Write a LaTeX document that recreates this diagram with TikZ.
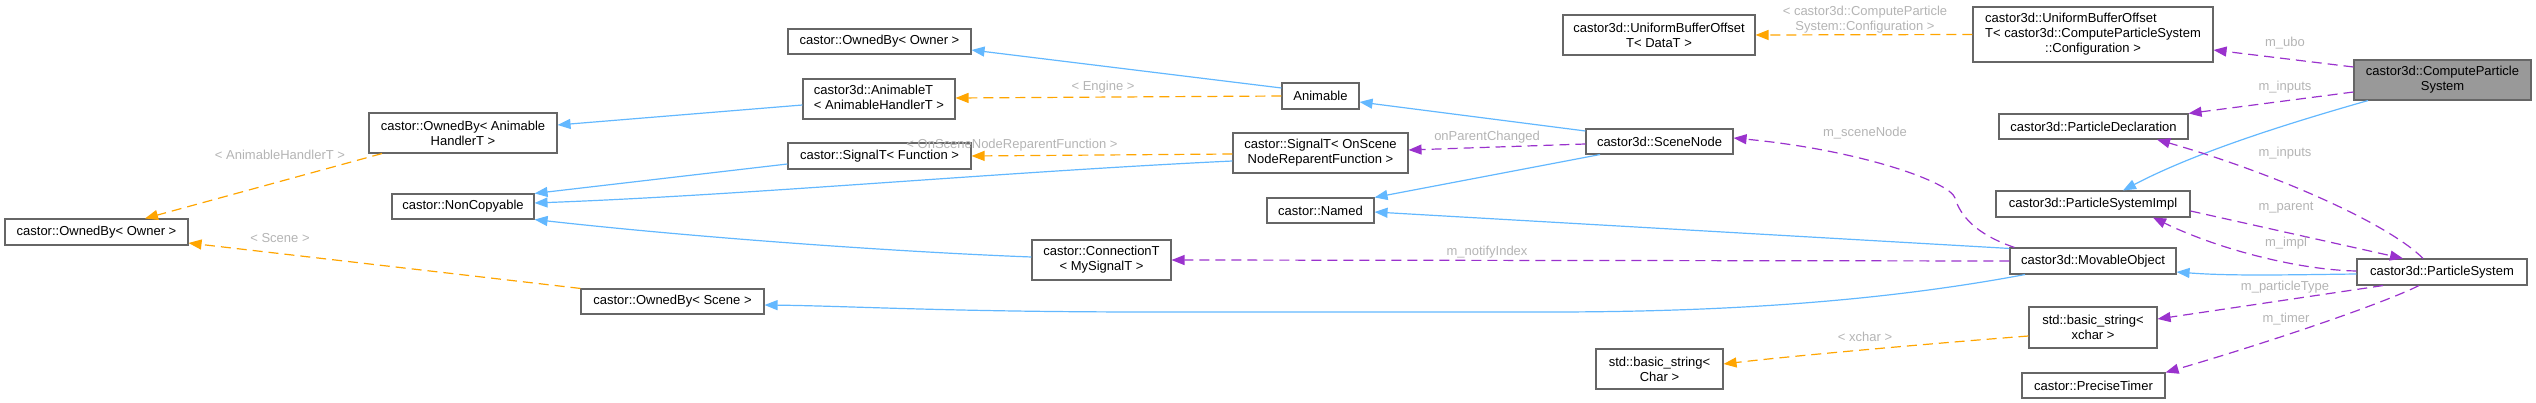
\documentclass[tikz,border=0pt]{standalone}
\usepackage{fontspec}
\setmainfont{Liberation Sans}
\usetikzlibrary{arrows.meta,calc}
\definecolor{inhblue}{HTML}{63B8FF}
\definecolor{useorchid}{HTML}{9A32CD}
\definecolor{tmplorange}{HTML}{FFA500}
\definecolor{boxgray}{HTML}{666666}
\definecolor{focusfill}{HTML}{999999}
\definecolor{lblgray}{HTML}{B4B4B4}
\begin{document}
\begin{tikzpicture}[x=1pt,y=-1pt,
  cls/.style={draw=boxgray, line width=1.1pt, fill=white, inner sep=0pt,
    font=\fontsize{13}{15}\selectfont, align=center},
  focus/.style={cls, fill=focusfill},
  inh/.style={draw=inhblue, line width=1.2pt, -{Triangle[length=13pt,width=10pt]}},
  use/.style={draw=useorchid, line width=1.2pt, dash pattern=on 10pt off 6pt, -{Triangle[length=13pt,width=10pt]}},
  tmpl/.style={draw=tmplorange, line width=1.2pt, dash pattern=on 10pt off 6pt, -{Triangle[length=13pt,width=10pt]}},
  lbl/.style={text=lblgray, font=\fontsize{13}{15}\selectfont, align=center, inner sep=0pt}
]
\useasboundingbox (0,0) rectangle (2536,403);

% nodes
\node[cls, minimum width=183pt, minimum height=26pt] (O1) at (96.5,232) {castor::OwnedBy< Owner >};
\node[cls, minimum width=188pt, minimum height=40pt] (OA) at (463,133) {castor::OwnedBy< Animable\\HandlerT >};
\node[cls, minimum width=142pt, minimum height=25pt] (NC) at (463,206.5) {castor::NonCopyable};
\node[cls, minimum width=183pt, minimum height=25pt] (OS) at (672.5,301.5) {castor::OwnedBy< Scene >};
\node[cls, minimum width=183pt, minimum height=25pt] (O2) at (879.5,41.5) {castor::OwnedBy< Owner >};
\node[cls, minimum width=152pt, minimum height=40pt] (AT) at (879,99) {\begin{tabular}{@{}l@{}}castor3d::AnimableT\\< AnimableHandlerT >\end{tabular}};
\node[cls, minimum width=183pt, minimum height=26pt] (SF) at (879.5,156) {castor::SignalT< Function >};
\node[cls, minimum width=139pt, minimum height=40pt] (CT) at (1101.5,260) {castor::ConnectionT\\< MySignalT >};
\node[cls, minimum width=77pt, minimum height=26pt] (AN) at (1320.5,96) {Animable};
\node[cls, minimum width=175pt, minimum height=40pt] (SO) at (1320.5,153) {castor::SignalT< OnScene\\NodeReparentFunction >};
\node[cls, minimum width=107pt, minimum height=25pt] (NM) at (1320.5,210.5) {castor::Named};
\node[cls, minimum width=147pt, minimum height=25pt] (SN) at (1659.5,141.5) {castor3d::SceneNode};
\node[cls, minimum width=192pt, minimum height=40pt] (UD) at (1659,35) {castor3d::UniformBufferOffset\\T< DataT >};
\node[cls, minimum width=127pt, minimum height=40pt] (BC) at (1659.5,369) {std::basic\_string<\\Char >};
\node[cls, minimum width=240pt, minimum height=55pt] (UC) at (2093,34.5) {\begin{tabular}{@{}l@{}}castor3d::UniformBufferOffset\\T< castor3d::ComputeParticleSystem\\\multicolumn{1}{@{}c@{}}{::Configuration >}\end{tabular}};
\node[cls, minimum width=189pt, minimum height=25pt] (PD) at (2093.5,126.5) {castor3d::ParticleDeclaration};
\node[cls, minimum width=194pt, minimum height=26pt] (PI) at (2093,204) {castor3d::ParticleSystemImpl};
\node[cls, minimum width=166pt, minimum height=26pt] (MO) at (2093,261) {castor3d::MovableObject};
\node[cls, minimum width=128pt, minimum height=41pt] (BX) at (2093,327.5) {std::basic\_string<\\xchar >};
\node[cls, minimum width=143pt, minimum height=25pt] (PT) at (2093.5,385.5) {castor::PreciseTimer};
\node[focus, minimum width=177pt, minimum height=40pt] (CP) at (2442.5,80) {castor3d::ComputeParticle\\System};
\node[cls, minimum width=170pt, minimum height=26pt] (PS) at (2442,272) {castor3d::ParticleSystem};

% inheritance
\draw[inh] ([yshift=-6pt]AT.west) -- ([yshift=8pt]OA.east);
\draw[inh] ([yshift=8pt]AN.west) -- ([yshift=-8.5pt]O2.east);
\draw[inh] ([yshift=-8pt]SF.west) -- (NC.north east);
\draw[inh] ([yshift=-8pt]SO.west) .. controls (1000,172) and (750,195) .. ([yshift=3.5pt]NC.east);
\draw[inh] ([yshift=3pt]CT.west) .. controls (900,252) and (700,238) .. (NC.south east);
\draw[inh] ([yshift=10.5pt]SN.west) -- ([yshift=-6pt]AN.east);
\draw[inh] ([xshift=-59.5pt]SN.south) -- (NM.north east);
\draw[inh] ([yshift=-1pt]MO.north west) -- ([yshift=-1.5pt]NM.east);
\draw[inh] ([xshift=-68pt]MO.south) .. controls (1900,298) and (1750,312) .. (1550,312) -- (1150,312) .. controls (950,312) and (850,306) .. ([yshift=-3.5pt]OS.east);
\draw[inh] ([yshift=-2pt]PS.west) .. controls (2280,275) and (2230,276) .. ([yshift=-11pt]MO.east);
\draw[inh] ([xshift=-74.5pt]CP.south) .. controls (2300,120) and (2200,150) .. ([xshift=30pt]PI.north);

% template instances
\draw[tmpl] ([xshift=-81pt]OA.south) -- ([xshift=48.5pt]O1.north);
\draw[tmpl] (OS.north west) -- ([yshift=-11pt]O1.east);
\draw[tmpl] (AN.west) -- ([yshift=1pt]AT.east);
\draw[tmpl] ([yshift=-1pt]SO.west) -- (SF.east);
\draw[tmpl] (UC.west) -- (UD.east);
\draw[tmpl] ([yshift=-8.5pt]BX.west) .. controls (1950,342) and (1800,355) .. ([yshift=5pt]BC.east);

% usage
\draw[use] ([yshift=-2.5pt]SN.west) -- ([yshift=3pt]SO.east);
\draw[use] ([xshift=5pt]MO.north west) .. controls (1975,234) and (1960,215) .. (1955,198) .. controls (1950,182) and (1860,150) .. ([yshift=3.5pt]SN.east);
\draw[use] (MO.west) -- (CT.east);
\draw[use] ([yshift=13pt]CP.west) -- ([yshift=-15.5pt]UC.east);
\draw[use] ([yshift=-12pt]CP.west) -- (PD.north east);
\draw[use] ([xshift=-19pt]PS.north) .. controls (2390,225) and (2280,175) .. ([xshift=63.5pt]PD.south);
\draw[use] ([yshift=1pt]PS.west) .. controls (2300,270) and (2220,250) .. ([xshift=60pt]PI.south);
\draw[use] ([yshift=-7pt]PI.east) -- ([xshift=-39pt]PS.north);
\draw[use] ([xshift=-59pt]PS.south) -- ([yshift=8.5pt]BX.east);
\draw[use] ([xshift=-23pt]PS.south) .. controls (2380,305) and (2260,345) .. (PT.north east);

% labels
\node[lbl] (L1) at (280,155) {< AnimableHandlerT >};
\node[lbl] (L2) at (280,238) {< Scene >};
\node[lbl] (L3) at (1103,87) {< Engine >};
\node[lbl] (L4) at (1012,145) {< OnSceneNodeReparentFunction >};
\node[lbl] (L5) at (1865,20) {< castor3d::ComputeParticle\\System::Configuration >};
\node[lbl] (L6) at (1865,337) {< xchar >};
\node[lbl] (L7) at (1487,137) {onParentChanged};
\node[lbl] (L8) at (1865,133) {m\_sceneNode};
\node[lbl] (L9) at (1487,252) {m\_notifyIndex};
\node[lbl] (L10) at (2285,43) {m\_ubo};
\node[lbl] (L11) at (2285,87) {m\_inputs};
\node[lbl] (L12) at (2285,153) {m\_inputs};
\node[lbl] (L13) at (2286,208) {m\_parent};
\node[lbl] (L14) at (2286,243) {m\_impl};
\node[lbl] (L15) at (2285,287) {m\_particleType};
\node[lbl] (L16) at (2286,319) {m\_timer};
\end{tikzpicture}
\end{document}
